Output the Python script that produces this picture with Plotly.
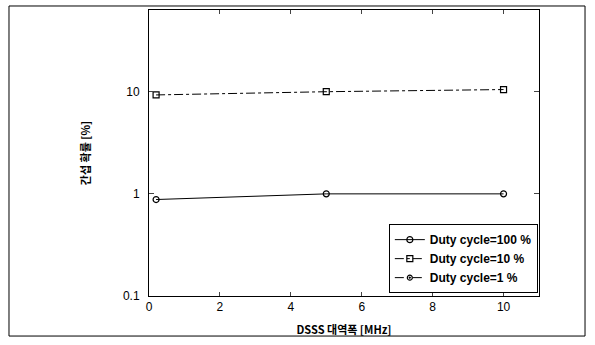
import plotly.graph_objects as go

x_vals = [0.2, 5, 10]
duty100 = [0.88, 1.0, 1.0]
duty10 = [9.3, 10.0, 10.5]
duty1 = [0.09, 0.09, 0.09]  # below visible range in the reference

x_ticks = [0, 2, 4, 6, 8, 10]
y_ticks = [0.1, 1, 10]
y_ticktext = ["0.1", "1", "10"]

fig = go.Figure()
fig.add_trace(go.Scatter(x=x_vals, y=duty100, mode="lines+markers", name="Duty cycle=100 %",
                         line=dict(color="black", width=1),
                         marker=dict(symbol="circle-open", size=6, color="black", line=dict(width=1.2))))
fig.add_trace(go.Scatter(x=x_vals, y=duty10, mode="lines+markers", name="Duty cycle=10 %",
                         line=dict(color="black", width=1, dash="dashdot"),
                         marker=dict(symbol="square-open", size=6, color="black", line=dict(width=1.2))))
fig.add_trace(go.Scatter(x=x_vals, y=duty1, mode="lines+markers", name="Duty cycle=1 %",
                         line=dict(color="black", width=1, dash="dash"),
                         marker=dict(symbol="circle-open-dot", size=5, color="black", line=dict(width=1.2))))

fig.update_layout(
    width=595, height=345,
    margin=dict(l=149, r=56, t=10, b=49),
    paper_bgcolor="white", plot_bgcolor="white",
    font=dict(family="Liberation Sans, Arial", size=12, color="black"),
    xaxis=dict(range=[0, 11], tickvals=x_ticks, ticks="inside", ticklen=4,
               showline=True, linecolor="black", linewidth=1, mirror="ticks",
               showgrid=False, zeroline=False,
               title=dict(text="<b>DSSS 대역폭 [MHz]</b>", standoff=12,
                          font=dict(family="Noto Sans CJK KR", size=11))),
    yaxis=dict(type="log", range=[-1, 1.8], tickvals=y_ticks, ticktext=y_ticktext,
               ticks="inside", ticklen=5,
               showline=True, linecolor="black", linewidth=1, mirror="ticks",
               showgrid=False, zeroline=False, ticklabelstandoff=6,
               title=dict(text="<b>간섭 확률 [%]</b>", standoff=30,
                          font=dict(family="Noto Sans CJK KR", size=11))),
    legend=dict(x=0.997, y=0.01, xanchor="right", yanchor="bottom",
                bordercolor="black", borderwidth=1, bgcolor="white",
                font=dict(family="Liberation Sans, Arial", size=12, weight="bold"),
                tracegroupgap=0, itemwidth=30),
    showlegend=True,
)
fig.add_shape(type="rect", xref="paper", yref="paper",
              x0=-0.359, x1=1.118, y0=-0.14, y1=1.014,
              line=dict(color="black", width=1))
fig.write_html("out.html")
